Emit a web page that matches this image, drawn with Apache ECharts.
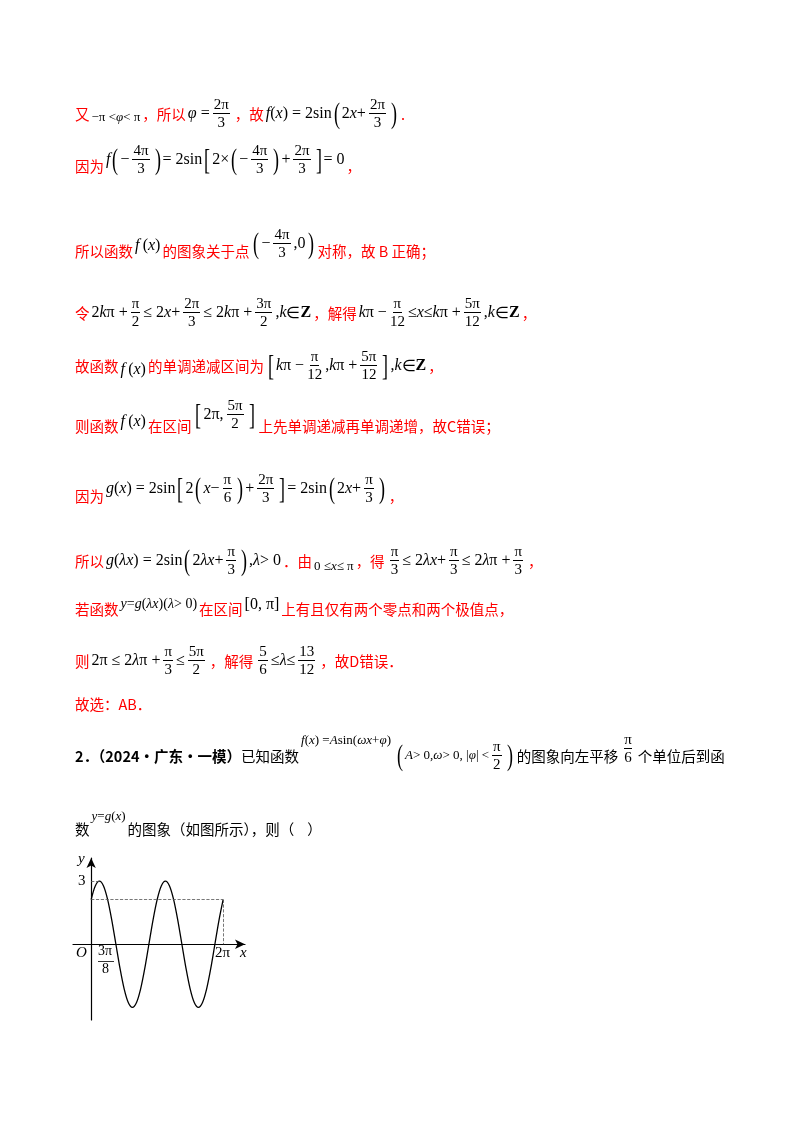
<!DOCTYPE html>
<html><head><meta charset="utf-8">
<script src="https://cdn.jsdelivr.net/npm/echarts@6/dist/echarts.min.js"></script>
<style>
body{margin:0;background:#fff;}
#c{position:absolute;left:0;top:0;width:800px;height:1132px;}
.ln{position:absolute;left:75px;font-family:"Noto Sans CJK SC";font-size:14.5px;color:#f00;white-space:nowrap;display:flex;align-items:center;height:40px;margin-top:-20px;}
.m{font-family:"Liberation Serif";color:#000;font-size:16px;display:inline-flex;align-items:center;margin:0 2px;}
.i{font-style:italic}
.f{display:inline-flex;flex-direction:column;align-items:center;margin:0 3px;font-size:15px;line-height:17px;}
.f>span:first-child{border-bottom:1px solid #000;padding:0 1px}
.p{font-size:30px;font-weight:100;transform:scaleX(0.6);line-height:30px}
.k{color:#000}
</style></head><body>
<div id="c"></div>
<div class="ln" style="top:113px">又<span class="m" style="font-size:13px;margin-top:8px">&minus;π &lt; <span class="i">φ</span> &lt; π</span>，所以<span class="m"><span class="i">φ</span>&nbsp;=<span class="f"><span>2π</span><span>3</span></span></span>，故<span class="m"><span class="i">f</span>(<span class="i">x</span>) = 2sin<span class="p">(</span>2<span class="i">x</span> +<span class="f"><span>2π</span><span>3</span></span><span class="p">)</span></span>.</div>
<div class="ln" style="top:165px">因为<span class="m" style="margin-top:-12px"><span class="i">f</span><span class="p">(</span>&minus;<span class="f"><span>4π</span><span>3</span></span><span class="p">)</span>= 2sin<span class="p">[</span>2×<span class="p">(</span>&minus;<span class="f"><span>4π</span><span>3</span></span><span class="p">)</span>+<span class="f"><span>2π</span><span>3</span></span><span class="p">]</span>= 0</span>，</div>
<div class="ln" style="top:250px">所以函数<span class="m i" style="margin-top:-10px">f&thinsp;<span style="font-style:normal">(</span>x<span style="font-style:normal">)</span></span>的图象关于点<span class="m" style="margin-top:-14px"><span class="p">(</span>&minus;<span class="f"><span>4π</span><span>3</span></span>,0<span class="p">)</span></span>对称，故 B 正确；</div>
<div class="ln" style="top:312px">令<span class="m">2<span class="i">k</span>π +<span class="f"><span>π</span><span>2</span></span>≤ 2<span class="i">x</span> +<span class="f"><span>2π</span><span>3</span></span>≤ 2<span class="i">k</span>π +<span class="f"><span>3π</span><span>2</span></span>, <span class="i">k</span> ∈ <b>Z</b></span>，解得<span class="m"><span class="i">k</span>π &minus;<span class="f"><span>π</span><span>12</span></span>≤ <span class="i">x</span> ≤ <span class="i">k</span>π +<span class="f"><span>5π</span><span>12</span></span>, <span class="i">k</span> ∈ <b>Z</b></span>，</div>
<div class="ln" style="top:365px">故函数<span class="m i" style="margin-top:8px">f&thinsp;<span style="font-style:normal">(</span>x<span style="font-style:normal">)</span></span>的单调递减区间为<span class="m"><span class="p">[</span><span class="i">k</span>π &minus;<span class="f"><span>π</span><span>12</span></span>, <span class="i">k</span>π +<span class="f"><span>5π</span><span>12</span></span><span class="p">]</span>, <span class="i">k</span> ∈ <b>Z</b></span>，</div>
<div class="ln" style="top:425px">则函数<span class="m i" style="margin-top:-8px">f&thinsp;<span style="font-style:normal">(</span>x<span style="font-style:normal">)</span></span>在区间<span class="m" style="margin-top:-22px"><span class="p">[</span>2π,<span class="f"><span>5π</span><span>2</span></span><span class="p">]</span></span>上先单调递减再单调递增，故C错误；</div>
<div class="ln" style="top:495px">因为<span class="m" style="margin-top:-14px"><span class="i">g</span>(<span class="i">x</span>) = 2sin<span class="p">[</span>2<span class="p">(</span><span class="i">x</span> &minus;<span class="f"><span>π</span><span>6</span></span><span class="p">)</span>+<span class="f"><span>2π</span><span>3</span></span><span class="p">]</span>= 2sin<span class="p">(</span>2<span class="i">x</span> +<span class="f"><span>π</span><span>3</span></span><span class="p">)</span></span>，</div>
<div class="ln" style="top:560px">所以<span class="m"><span class="i">g</span>(<span class="i">λx</span>) = 2sin<span class="p">(</span>2<span class="i">λx</span> +<span class="f"><span>π</span><span>3</span></span><span class="p">)</span>, <span class="i">λ</span> &gt; 0</span>．由<span class="m" style="margin-top:12px;font-size:13px">0 ≤ <span class="i">x</span> ≤ π</span>，得<span class="m"><span class="f"><span>π</span><span>3</span></span>≤ 2<span class="i">λx</span> +<span class="f"><span>π</span><span>3</span></span>≤ 2<span class="i">λ</span>π +<span class="f"><span>π</span><span>3</span></span></span>，</div>
<div class="ln" style="top:608px">若函数<span class="m" style="margin-top:-8px;font-size:14px"><span class="i">y</span> = <span class="i">g</span>(<span class="i">λx</span>)(<span class="i">λ</span> &gt; 0)</span>在区间<span class="m" style="margin-top:-8px">[0, π]</span>上有且仅有两个零点和两个极值点，</div>
<div class="ln" style="top:660px">则<span class="m">2π ≤ 2<span class="i">λ</span>π +<span class="f"><span>π</span><span>3</span></span>≤<span class="f"><span>5π</span><span>2</span></span></span>，解得<span class="m"><span class="f"><span>5</span><span>6</span></span>≤ <span class="i">λ</span> ≤<span class="f"><span>13</span><span>12</span></span></span>，故D错误．</div>
<div class="ln" style="top:703px">故选：AB．</div>
<div class="ln k" style="top:755px"><b>2．（2024·广东·一模）</b>已知函数<span class="m" style="margin-top:-30px;font-size:13px"><span class="i">f</span>(<span class="i">x</span>) = <span class="i">A</span>sin(<span class="i">ωx</span> + <span class="i">φ</span>)</span><span class="m" style="font-size:13px"><span class="p">(</span><span class="i">A</span> &gt; 0, <span class="i">ω</span> &gt; 0, |<span class="i">φ</span>| &lt;<span class="f"><span>π</span><span>2</span></span><span class="p">)</span></span>的图象向左平移<span class="m" style="font-size:13px"><span class="f" style="margin-top:-14px"><span style="border:none">π</span><span style="border-top:1px solid #000">6</span></span></span>个单位后到函</div>
<div class="ln k" style="top:828px">数<span class="m" style="margin-top:-24px;font-size:13px"><span class="i">y</span> = <span class="i">g</span>(<span class="i">x</span>)</span>的图象（如图所示），则（&nbsp;&nbsp;&nbsp; ）</div>
<script>
// x in units of π/16
const xs=[0,1,2,3,4,5,6,7,8,9,10,11,12,13,14,15,16,17,18,19,20,21,22,23,24,25,26,27,28,29,30,31,32];
const ys=[2.12,2.77,3,2.77,2.12,1.15,0,-1.15,-2.12,-2.77,-3,-2.77,-2.12,-1.15,0,1.15,2.12,2.77,3,2.77,2.12,1.15,0,-1.15,-2.12,-2.77,-3,-2.77,-2.12,-1.15,0,1.15,2.12];
const ch=echarts.init(document.getElementById('c'));
const L=73,R=245,T=858,B=1020;
ch.setOption({
 animation:false,
 grid:{left:L,top:T,width:R-L,height:B-T},
 xAxis:{type:'value',min:-4.4,max:37.3,axisLine:{onZero:true,lineStyle:{color:'#000',width:1.2},symbol:['none','arrow'],symbolSize:[7,10]},axisTick:{show:false},axisLabel:{show:false},splitLine:{show:false}},
 yAxis:{type:'value',min:-3.6,max:4.1,axisLine:{onZero:true,lineStyle:{color:'#000',width:1.2},symbol:['none','arrow'],symbolSize:[7,10]},axisTick:{show:false},axisLabel:{show:false},splitLine:{show:false}},
 series:[{type:'line',data:xs.map((x,i)=>[x,ys[i]]),smooth:0.3,showSymbol:false,lineStyle:{color:'#000',width:1.3},
  markLine:{silent:true,symbol:'none',label:{show:false},lineStyle:{type:'dashed',color:'#555',width:0.8},
   data:[[{coord:[0,2.12]},{coord:[32,2.12]}],[{coord:[32,2.12]},{coord:[32,0]}],[{coord:[0,3]},{coord:[2,3]}]]}}],
 graphic:[
  {type:'text',x:76,y:946,style:{text:'O',font:'italic 15px "Liberation Serif"',fill:'#000'}},
  {type:'text',x:98,y:944,style:{text:'3π',font:'14px "Liberation Serif"',fill:'#000'}},
  {type:'rect',shape:{x:98,y:961,width:16,height:0.8},style:{fill:'#000'}},
  {type:'text',x:102,y:962,style:{text:'8',font:'14px "Liberation Serif"',fill:'#000'}},
  {type:'text',x:215,y:946,style:{text:'2π',font:'15px "Liberation Serif"',fill:'#000'}},
  {type:'text',x:240,y:946,style:{text:'x',font:'italic 15px "Liberation Serif"',fill:'#000'}},
  {type:'text',x:78,y:852,style:{text:'y',font:'italic 15px "Liberation Serif"',fill:'#000'}},
  {type:'text',x:78,y:874,style:{text:'3',font:'15px "Liberation Serif"',fill:'#000'}}
 ]
});
</script>
</body></html>
